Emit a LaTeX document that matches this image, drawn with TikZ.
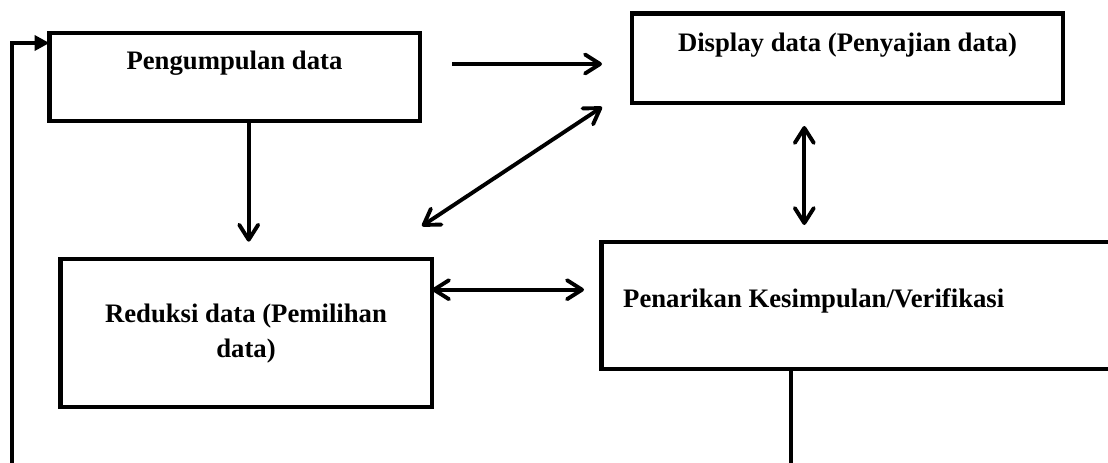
\documentclass[tikz,border=0pt]{standalone}
\usepackage{fontspec}
\setmainfont{Liberation Serif}
\usetikzlibrary{arrows.meta,calc}
\begin{document}
\begin{tikzpicture}[x=1pt,y=-1pt,
  box/.style={draw,line width=4.3pt,inner sep=0pt,outer sep=0pt,anchor=north west},
  lbl/.style={inner sep=0pt,font=\fontsize{26.7}{35.5}\selectfont\bfseries,anchor=base},
  conn/.style={line width=3.9pt},
  dbl/.style={conn,{Straight Barb[length=15pt,width=19pt,line cap=round,line join=round]}-{Straight Barb[length=15pt,width=19pt,line cap=round,line join=round]}},
  single/.style={conn,-{Straight Barb[length=15pt,width=19pt,line cap=round,line join=round]}},
  fbarrow/.style={line width=3.9pt,-{Triangle[length=15pt,width=15pt]}}]
\useasboundingbox (0,0) rectangle (1108,463);
\clip (0,0) rectangle (1108,463);
\fill[white] (0,0) rectangle (1108,463);
% boxes
\node[box,minimum width=370.5pt,minimum height=88pt] (peng) at (49.5,33) {};
\node[box,minimum width=431pt,minimum height=89.5pt] (disp) at (632,13.5) {};
\node[box,minimum width=371.5pt,minimum height=148pt] (red) at (60.5,259) {};
\node[box,minimum width=520pt,minimum height=127pt] (pen) at (601.5,242) {};
% labels
\node[lbl] (tpeng) at (234.5,69) {Pengumpulan data};
\node[lbl] (tdisp) at (847.5,51) {Display data (Penyajian data)};
\node[lbl,align=center] (tred) at (246,357.5) {Reduksi data (Pemilihan\\data)};
\node[lbl,anchor=base west] (tpen) at (623,307.5) {Penarikan Kesimpulan/Verifikasi};
% connector end points
\coordinate (a1s) at (452,64);
\coordinate (a1e) at (602,64);
\coordinate (a2e) at (248.7,241.7);
\coordinate (a3s) at (422,226);
\coordinate (a3e) at (602,107);
\coordinate (a4s) at (804.3,126);
\coordinate (a4e) at (804.3,225);
\coordinate (a5e) at (584,289.7);
\coordinate (fb) at (12,475);
\coordinate (fbturn) at (12,43);
\coordinate (bl) at (791,475);
% connectors
\draw[single] (a1s) -- (a1e);
\draw[single] (peng.south -| a2e) -- (a2e);
\draw[dbl] (a3s) -- (a3e);
\draw[dbl] (a4s) -- (a4e);
\draw[dbl] (red.east |- a5e) -- (a5e);
\draw[fbarrow] (fb) -- (fbturn) -- (peng.west |- fbturn);
\draw[line width=3.9pt] (pen.south -| bl) -- (bl);
\end{tikzpicture}
\end{document}
